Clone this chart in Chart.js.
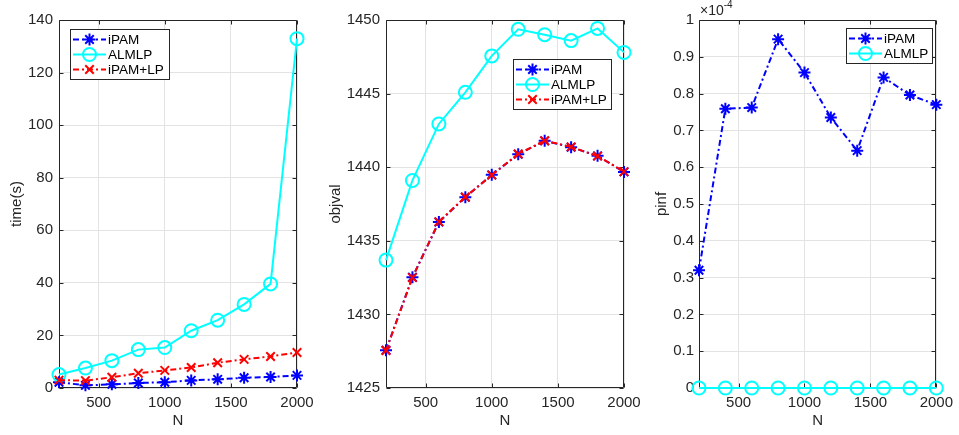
<!DOCTYPE html>
<html>
<head>
<meta charset="utf-8">
<script src="https://cdn.jsdelivr.net/npm/chart.js@4.4.0/dist/chart.umd.min.js"></script>
<style>
  html, body { margin: 0; padding: 0; background: #fff; }
  #wrap { position: relative; width: 959px; height: 435px; overflow: hidden; }
  #wrap canvas { position: absolute; left: 0; top: 0; }
</style>
</head>
<body>
<div id="wrap">
  <canvas id="timePlot" width="959" height="435"></canvas>
  <canvas id="objPlot" width="959" height="435"></canvas>
  <canvas id="pinfPlot" width="959" height="435"></canvas>
</div>
<script>
// problem sizes
const nVals = [200, 400, 600, 800, 1000, 1200, 1400, 1600, 1800, 2000];
const xTicks = [500, 1000, 1500, 2000];

// run time (s)
const timeIPAM   = [2.2, 1.0, 1.4, 1.9, 2.2, 2.9, 3.3, 3.9, 4.2, 4.8];
const timeALMLP  = [5.1, 7.6, 10.4, 14.6, 15.4, 21.8, 25.8, 31.8, 39.6, 132.9];
const timeIPAMLP = [3.0, 2.8, 4.1, 5.6, 6.7, 7.8, 9.6, 10.9, 12.0, 13.5];

// objective value
const objIPAM   = [1427.56, 1432.53, 1436.27, 1437.96, 1439.48, 1440.88, 1441.79, 1441.36, 1440.77, 1439.68];
const objALMLP  = [1433.69, 1439.10, 1442.94, 1445.09, 1447.56, 1449.37, 1449.00, 1448.60, 1449.43, 1447.80];
const objIPAMLP = [1427.55, 1432.50, 1436.30, 1437.98, 1439.46, 1440.90, 1441.80, 1441.38, 1440.75, 1439.70];

// primal infeasibility
const pinfIPAM  = [0.320e-4, 0.759e-4, 0.762e-4, 0.948e-4, 0.857e-4, 0.735e-4, 0.645e-4, 0.844e-4, 0.796e-4, 0.770e-4];
const pinfALMLP = [0, 0, 0, 0, 0, 0, 0, 0, 0, 0];

const INK = '#262626';
const FONT = "'Liberation Sans', Arial, sans-serif";
Chart.defaults.font.family = FONT;
Chart.defaults.color = INK;

const style = {
  iPAM:      { color: '#0000ff', dash: [6, 3, 2, 3], point: 'star', radius: 6 },
  ALMLP:     { color: '#00ffff', dash: [], point: 'circle', radius: 6.5 },
  'iPAM+LP': { color: '#ff0000', dash: [6, 3, 2, 3], point: 'crossRot', radius: 6 }
};

const series = (label, values, order) => {
  const s = style[label];
  return {
    label,
    data: nVals.map((n, i) => ({ x: n, y: values[i] })),
    borderColor: s.color,
    borderWidth: 2,
    borderDash: s.dash,
    pointStyle: s.point,
    pointRadius: s.radius,
    pointBorderColor: s.color,
    pointBackgroundColor: 'rgba(0,0,0,0)',
    pointBorderWidth: 2,
    clip: false,
    order
  };
};

// axes box with inward ticks on all four sides
const frame = {
  id: 'frame',
  beforeDatasetsDraw(chart) {
    const { ctx, chartArea: a, scales: { x, y } } = chart;
    const L = Math.round(a.left) + 0.5, R = Math.round(a.right) - 0.5;
    const T = Math.round(a.top) + 0.5, B = Math.round(a.bottom) - 0.5;
    ctx.save();
    ctx.strokeStyle = INK;
    ctx.lineWidth = 1;
    ctx.beginPath();
    ctx.rect(L, T, R - L, B - T);
    x.ticks.forEach(t => {
      const px = Math.round(x.getPixelForValue(t.value)) + 0.5;
      ctx.moveTo(px, B); ctx.lineTo(px, B - 4);
      ctx.moveTo(px, T); ctx.lineTo(px, T + 4);
    });
    y.ticks.forEach(t => {
      const py = Math.round(y.getPixelForValue(t.value)) + 0.5;
      ctx.moveTo(L, py); ctx.lineTo(L + 4, py);
      ctx.moveTo(R, py); ctx.lineTo(R - 4, py);
    });
    ctx.stroke();
    ctx.restore();
  }
};

// boxed legend placed inside the axes
const boxLegend = {
  id: 'boxLegend',
  afterDraw(chart, args, opts) {
    if (!opts || opts.left === undefined) return;
    const { ctx } = chart;
    const sets = chart.data.datasets;
    const h = 4 + sets.length * 15 + 1;
    ctx.save();
    ctx.fillStyle = '#fff';
    ctx.fillRect(opts.left, opts.top, opts.width, h);
    ctx.strokeStyle = INK;
    ctx.lineWidth = 1;
    ctx.strokeRect(opts.left + 0.5, opts.top + 0.5, opts.width, h);
    ctx.font = '13.5px ' + FONT;
    ctx.textBaseline = 'middle';
    sets.forEach((ds, i) => {
      const cy = opts.top + 10.5 + i * 15;
      ctx.strokeStyle = ds.borderColor;
      ctx.lineWidth = 2;
      ctx.setLineDash(ds.borderDash);
      ctx.beginPath();
      ctx.moveTo(opts.left + 3, cy);
      ctx.lineTo(opts.left + 36, cy);
      ctx.stroke();
      ctx.setLineDash([]);
      ctx.fillStyle = 'rgba(0,0,0,0)';
      Chart.helpers.drawPoint(ctx, {
        pointStyle: ds.pointStyle, radius: ds.pointRadius, borderWidth: 2, rotation: 0
      }, opts.left + 19.5, cy);
      ctx.fillStyle = '#000';
      ctx.fillText(ds.label, opts.left + 38, cy + 1);
    });
    ctx.restore();
  }
};

// "x10^-4" multiplier above the pinf axis
const exponent = {
  id: 'exponent',
  afterDraw(chart, args, opts) {
    if (!opts || !opts.text) return;
    const { ctx, chartArea: a } = chart;
    ctx.save();
    ctx.fillStyle = INK;
    ctx.textBaseline = 'alphabetic';
    ctx.font = '14px ' + FONT;
    ctx.fillText('\u00d710', a.left + 1, 15);
    const w = ctx.measureText('\u00d710').width;
    ctx.font = '10px ' + FONT;
    ctx.fillText(opts.text, a.left + 1 + w, 8);
    ctx.restore();
  }
};

const panel = (id, cfg) => new Chart(document.getElementById(id), {
  type: 'line',
  data: { datasets: cfg.datasets },
  options: {
    responsive: false,
    animation: false,
    events: [],
    layout: { padding: { left: cfg.start, right: 959 - cfg.plotRight, top: 20, bottom: 0 } },
    plugins: {
      legend: { display: false },
      tooltip: { enabled: false },
      boxLegend: cfg.legend,
      exponent: cfg.exponent || {}
    },
    scales: {
      x: {
        type: 'linear',
        min: 200,
        max: 2000,
        afterBuildTicks: s => { s.ticks = xTicks.map(v => ({ value: v })); },
        afterFit: s => { s.height = 47; },
        grid: { color: '#e3e3e3', drawTicks: false },
        border: { display: false },
        ticks: { padding: 6, font: { size: 15 }, color: INK, maxRotation: 0, callback: v => String(v) },
        title: { display: true, text: 'N', font: { size: 15 }, color: INK, padding: { top: 0, bottom: 5 } }
      },
      y: {
        type: 'linear',
        min: cfg.yMin,
        max: cfg.yMax,
        afterBuildTicks: s => { s.ticks = cfg.yTicks.map(v => ({ value: v })); },
        afterFit: s => { s.width = cfg.plotLeft - cfg.start; },
        grid: { color: '#e3e3e3', drawTicks: false },
        border: { display: false },
        ticks: { padding: cfg.tickPad, font: { size: 15 }, color: INK, callback: cfg.yFormat },
        title: { display: true, text: cfg.yTitle, font: { size: 15 }, color: INK, padding: { top: cfg.titlePad, bottom: 0 } }
      }
    }
  },
  plugins: [frame, boxLegend, exponent]
});

const timeTicks = [0, 20, 40, 60, 80, 100, 120, 140];
const objTicks = [1425, 1430, 1435, 1440, 1445, 1450];
const pinfTicks = [0, 0.1e-4, 0.2e-4, 0.3e-4, 0.4e-4, 0.5e-4, 0.6e-4, 0.7e-4, 0.8e-4, 0.9e-4, 1e-4];

panel('timePlot', {
  start: 0, plotLeft: 59, plotRight: 297,
  yMin: 0, yMax: 140, yTicks: timeTicks, yTitle: 'time(s)', titlePad: 8, tickPad: 6,
  yFormat: v => String(v),
  legend: { left: 70, top: 29, width: 99 },
  datasets: [
    series('iPAM', timeIPAM, 2),
    series('ALMLP', timeALMLP, 1),
    series('iPAM+LP', timeIPAMLP, 0)
  ]
});

panel('objPlot', {
  start: 320, plotLeft: 386, plotRight: 624,
  yMin: 1425, yMax: 1450, yTicks: objTicks, yTitle: 'objval', titlePad: 7, tickPad: 6,
  yFormat: v => String(v),
  legend: { left: 513, top: 59, width: 98 },
  datasets: [
    series('iPAM', objIPAM, 2),
    series('ALMLP', objALMLP, 1),
    series('iPAM+LP', objIPAMLP, 0)
  ]
});

panel('pinfPlot', {
  start: 640, plotLeft: 699, plotRight: 941,
  yMin: 0, yMax: 1e-4, yTicks: pinfTicks, yTitle: 'pinf', titlePad: 13, tickPad: 5,
  yFormat: v => {
    const m = Math.round(v * 1e5) / 10;
    return m === 0 ? '0' : m === 1 ? '1' : m.toFixed(1);
  },
  legend: { left: 846, top: 28, width: 86 },
  exponent: { text: '-4' },
  datasets: [
    series('iPAM', pinfIPAM, 1),
    series('ALMLP', pinfALMLP, 0)
  ]
});
</script>
</body>
</html>
